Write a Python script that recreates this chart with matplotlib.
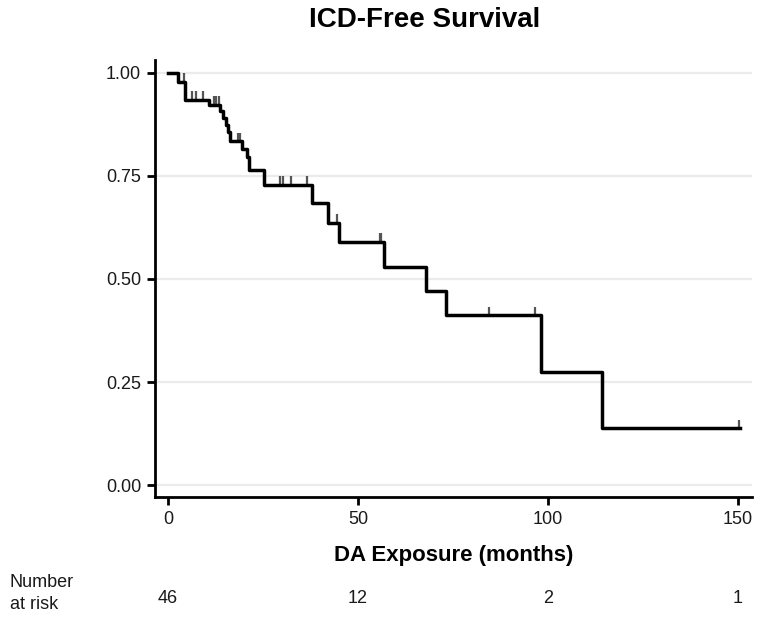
import numpy as np
import matplotlib
matplotlib.use('Agg')
import matplotlib.pyplot as plt
from matplotlib.transforms import blended_transform_factory

plt.rcParams['font.family'] = ['Liberation Sans', 'DejaVu Sans']

# Kaplan-Meier step curve (time in months, survival after step)
step_times = [0, 2.6, 4.5, 10.9, 13.7, 14.6, 15.2, 15.8, 16.4, 19.4, 20.7, 21.2,
              25.2, 38.0, 42.0, 45.1, 56.8, 68.0, 73.3, 98.1, 114.3, 150.5]
step_surv = [1.0, 0.978, 0.934, 0.922, 0.906, 0.890, 0.874, 0.855, 0.833, 0.814,
             0.795, 0.765, 0.728, 0.683, 0.636, 0.589, 0.530, 0.471, 0.412,
             0.275, 0.138, 0.138]
censor_times = [4.1, 6.2, 7.3, 9.3, 12.0, 12.7, 13.3, 18.3, 19.0, 29.5, 30.2,
                32.3, 36.5, 44.4, 55.7, 56.2, 84.6, 96.6, 150.3]

risk_times = [0, 50, 100, 150]
risk_counts = [46, 12, 2, 1]
y_ticks = [0.0, 0.25, 0.5, 0.75, 1.0]
x_ticks = [0, 50, 100, 150]

fig = plt.figure(figsize=(7.64, 6.2), dpi=100)
ax = fig.add_axes([0.203, 0.198, 0.781, 0.705])

for yv in y_ticks:
    ax.axhline(yv, color='#ebebeb', lw=1.6, zorder=0)

ax.step(step_times, step_surv, where='post', color='black', lw=2.5, zorder=3)

# censor marks: short ticks sitting on top of the line
idx = np.searchsorted(step_times, censor_times, side='right') - 1
cy = np.array(step_surv)[idx]
ax.vlines(censor_times, cy, cy + 0.021, color='#555555', lw=1.6, zorder=2)

ax.set_xlim(-3.4, 153.7)
ax.set_ylim(-0.029, 1.03)
ax.set_xticks(x_ticks)
ax.set_yticks(y_ticks)
ax.set_yticklabels(['%.2f' % v for v in y_ticks])
ax.tick_params(axis='both', length=6, width=2, color='black',
               labelsize=13, labelcolor='#1a1a1a', pad=4)
for s in ['top', 'right']:
    ax.spines[s].set_visible(False)
for s in ['left', 'bottom']:
    ax.spines[s].set_linewidth(2)
    ax.spines[s].set_color('black')

ax.set_xlabel('DA Exposure (months)', fontsize=16, fontweight='bold', labelpad=12)

fig.text(0.556, 0.967, 'ICD-Free Survival', ha='center', va='center',
         fontsize=20, fontweight='bold')

# number at risk table
tr = blended_transform_factory(ax.transData, fig.transFigure)
for t, n in zip(risk_times, risk_counts):
    ax.text(t, 0.035, str(n), transform=tr, ha='center', va='center',
            fontsize=13, color='#1a1a1a', clip_on=False)
fig.text(0.013, 0.043, 'Number\nat risk', ha='left', va='center',
         fontsize=13, color='#1a1a1a', linespacing=1.35)

plt.savefig('out.png', dpi=100)
